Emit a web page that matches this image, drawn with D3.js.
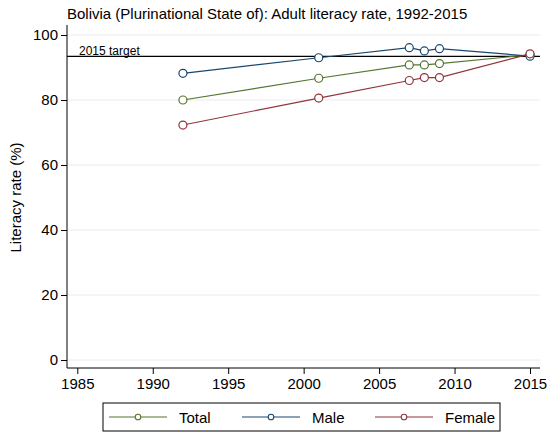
<!DOCTYPE html>
<html>
<head>
<meta charset="utf-8">
<script src="https://cdn.jsdelivr.net/npm/d3@7"></script>
<style>
  body { margin: 0; background: #fff; }
  svg { font-family: "Liberation Sans", Arial, sans-serif; }
  .axis path, .axis line { stroke: #000; stroke-width: 1; }
  .axis text { font-size: 15px; fill: #000; }
</style>
</head>
<body>
<div id="chart"></div>
<script>
// data
const years = [1992, 2001, 2007, 2008, 2009, 2015];
const total = [80.0, 86.7, 90.8, 90.8, 91.2, 93.9];
const male = [88.2, 93.0, 96.1, 95.1, 95.8, 93.5];
const female = [72.3, 80.6, 86.0, 86.9, 86.9, 94.2];
const seriesNames = ["Total", "Male", "Female"];
const seriesColors = ["#55752f", "#1a476f", "#90353b"];
const xTicks = [1985, 1990, 1995, 2000, 2005, 2010, 2015];
const yTicks = [0, 20, 40, 60, 80, 100];
const target = 93.4;

const width = 547, height = 433;
const plot = {left: 67, right: 540, top: 25, bottom: 368};

const svg = d3.select("#chart").append("svg")
    .attr("width", width)
    .attr("height", height);

const x = d3.scaleLinear().domain([1985, 2015]).range([77.3, 530]);
const y = d3.scaleLinear().domain([0, 100]).range([360, 35]);

// title
svg.append("text")
    .attr("x", 67).attr("y", 19)
    .attr("font-size", 15)
    .text("Bolivia (Plurinational State of): Adult literacy rate, 1992-2015");

// gridlines
svg.append("g").selectAll("line")
    .data(yTicks)
    .enter().append("line")
    .attr("x1", plot.left).attr("x2", plot.right)
    .attr("y1", d => y(d)).attr("y2", d => y(d))
    .attr("stroke", "#ebebeb").attr("stroke-width", 1);

// axes
const yAxis = svg.append("g").attr("class", "axis")
    .attr("transform", "translate(" + plot.left + ",0)")
    .call(d3.axisLeft(y).tickValues(yTicks).tickSize(6).tickPadding(3).tickSizeOuter(0));
yAxis.select(".domain").attr("d", "M0," + plot.top + "V" + plot.bottom);

const xAxis = svg.append("g").attr("class", "axis")
    .attr("transform", "translate(0," + plot.bottom + ")")
    .call(d3.axisBottom(x).tickValues(xTicks).tickFormat(d3.format("d")).tickSize(6).tickPadding(4).tickSizeOuter(0));
xAxis.select(".domain").attr("d", "M" + plot.left + ",0H" + plot.right);

svg.append("text")
    .attr("transform", "translate(21," + y(50) + ") rotate(-90)")
    .attr("text-anchor", "middle")
    .attr("font-size", 15)
    .text("Literacy rate (%)");

// target line
svg.append("line")
    .attr("x1", plot.left).attr("x2", plot.right)
    .attr("y1", y(target)).attr("y2", y(target))
    .attr("stroke", "#000").attr("stroke-width", 1.2);
svg.append("text")
    .attr("x", 79).attr("y", y(target) - 1.5)
    .attr("font-size", 12)
    .text("2015 target");

// series
const allSeries = [total, male, female];
const line = d3.line().x(d => x(d[0])).y(d => y(d[1]));

allSeries.forEach((vals, i) => {
    const pts = years.map((yr, j) => [yr, vals[j]]);
    const g = svg.append("g");
    g.append("path")
        .attr("d", line(pts))
        .attr("fill", "none")
        .attr("stroke", seriesColors[i])
        .attr("stroke-width", 1.2);
    g.selectAll("circle")
        .data(pts)
        .enter().append("circle")
        .attr("cx", d => x(d[0]))
        .attr("cy", d => y(d[1]))
        .attr("r", 4)
        .attr("fill", "#fff")
        .attr("stroke", seriesColors[i])
        .attr("stroke-width", 1.2);
});

// legend
const legend = svg.append("g");
legend.append("rect")
    .attr("x", 103).attr("y", 403)
    .attr("width", 397).attr("height", 28)
    .attr("fill", "#fff").attr("stroke", "#000").attr("stroke-width", 1);

const legX = [109, 242, 375];
seriesNames.forEach((name, i) => {
    const lx = legX[i];
    legend.append("line")
        .attr("x1", lx).attr("x2", lx + 58)
        .attr("y1", 417).attr("y2", 417)
        .attr("stroke", seriesColors[i]).attr("stroke-width", 1.2);
    legend.append("circle")
        .attr("cx", lx + 29).attr("cy", 417).attr("r", 2.8)
        .attr("fill", "#fff")
        .attr("stroke", seriesColors[i]).attr("stroke-width", 1.1);
    legend.append("text")
        .attr("x", lx + 70).attr("y", 422.5)
        .attr("font-size", 15)
        .text(name);
});
</script>
</body>
</html>
